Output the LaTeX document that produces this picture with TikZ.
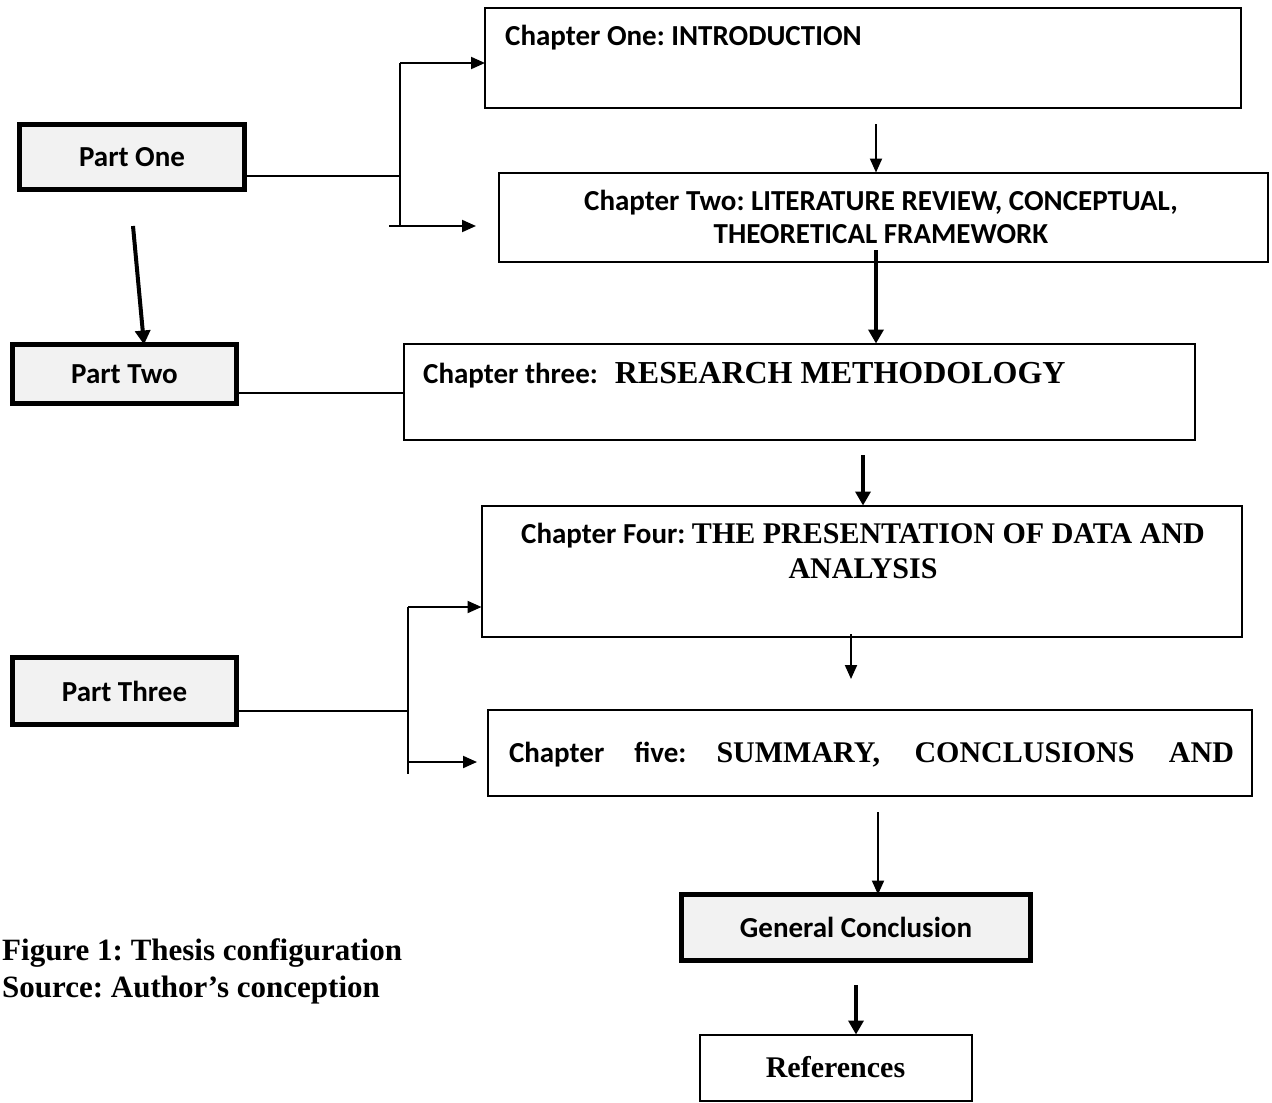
\documentclass[tikz,border=0pt]{standalone}
\usepackage{fontspec}
\newfontfamily\calib{Carlito}
\newfontfamily\tnr{Liberation Serif}
\usetikzlibrary{arrows.meta}
\definecolor{partgray}{HTML}{F2F2F2}
\frenchspacing
\begin{document}
\begin{tikzpicture}[x=1pt,y=-1pt,
  partbox/.style={draw, line width=4.5pt, fill=partgray, inner sep=0pt, outer sep=0pt,
    font=\calib\bfseries\fontsize{29}{33}\selectfont},
  chapbox/.style={draw, line width=2pt, inner sep=0pt, outer sep=0pt},
  cbf/.style={inner sep=0pt, font=\frenchspacing\calib\bfseries\fontsize{29}{33}\selectfont},
  tbf/.style={inner sep=0pt, font=\frenchspacing\tnr\bfseries\fontsize{30}{34}\selectfont},
  link/.style={line width=2pt},
  thinarrow/.style={line width=2pt, -{Triangle[length=14pt,width=12pt]}},
  thickarrow/.style={line width=4pt, -{Triangle[length=14pt,width=15pt]}}]
\useasboundingbox[fill=white] (0,0) rectangle (1272,1103);

% part boxes
\node[partbox, minimum width=225pt, minimum height=65pt] (p1) at (132,157) {Part One};
\node[partbox, minimum width=224pt, minimum height=59pt] (p2) at (124.5,374) {Part Two};
\node[partbox, minimum width=224pt, minimum height=67pt] (p3) at (124.5,691) {Part Three};

% chapter boxes
\node[chapbox, minimum width=756pt, minimum height=100pt] (c1) at (863,58) {};
\node[cbf, anchor=base west] (c1t) at (505,45) {Chapter One: INTRODUCTION};

\node[chapbox, minimum width=769pt, minimum height=89pt] (c2) at (883,217) {};
\node[cbf, align=center] (c2t) at (881,216.5) {Chapter Two: LITERATURE REVIEW, CONCEPTUAL,\\THEORETICAL FRAMEWORK};

\node[chapbox, minimum width=791pt, minimum height=96pt] (c3) at (799,391.5) {};
\node[cbf, anchor=base west] (c3t) at (423,383) {Chapter three:\hspace{17pt}{\tnr\fontsize{32}{36}\selectfont RESEARCH METHODOLOGY}};

\node[chapbox, minimum width=760pt, minimum height=131pt] (c4) at (861.5,571) {};
\node[cbf, align=center] (c4t) at (863,551) {Chapter Four: {\tnr\fontsize{30}{36}\selectfont THE PRESENTATION OF DATA AND}\\[2pt]{\tnr\fontsize{30}{36}\selectfont ANALYSIS}};

\node[chapbox, minimum width=764pt, minimum height=86pt] (c5) at (869.5,752.5) {};
\node[cbf] (c5t) at (871.5,755) {\makebox[725pt][s]{Chapter five: {\tnr\fontsize{30}{34}\selectfont SUMMARY, CONCLUSIONS AND}}};

\node[partbox, minimum width=349pt, minimum height=66pt] (gc) at (856,927.5) {General Conclusion};
\node[chapbox, tbf, minimum width=272pt, minimum height=66pt] (rf) at (835.5,1067.5) {References};

% caption
\node[tbf, anchor=base west, font=\frenchspacing\tnr\bfseries\fontsize{31}{34}\selectfont] (cap1) at (2,960) {Figure 1: Thesis configuration};
\node[tbf, anchor=base west, font=\frenchspacing\tnr\bfseries\fontsize{31}{34}\selectfont] (cap2) at (2,997) {Source: Author’s conception};

% part one branch
\coordinate (b1) at (400,176);
\coordinate (b1top) at (400,63);
\coordinate (b1bot) at (400,226);
\coordinate (b1left) at (389,226);
\coordinate (b1end) at (476,226);
\draw[link] (p1.east |- b1) -- (b1);
\draw[link] (b1top) -- (b1bot);
\draw[thinarrow] (b1top) -- (c1.west |- b1top);
\draw[thinarrow] (b1left) -- (b1end);

% part one -> part two
\coordinate (a1) at (133,226);
\draw[thickarrow] (a1) -- ([xshift=19.5pt]p2.north);

% part two -> chapter three
\draw[link] (p2.east |- 0,393) -- (c3.west |- 0,393);

% part three branch
\coordinate (b3) at (408,711);
\coordinate (b3top) at (408,607);
\coordinate (b3bot) at (408,774);
\coordinate (b3a) at (408,762);
\coordinate (b3end) at (477,762);
\draw[link] (p3.east |- b3) -- (b3);
\draw[link] (b3top) -- (b3bot);
\draw[thinarrow] (b3top) -- (c4.west |- b3top);
\draw[thinarrow] (b3a) -- (b3end);

% chapter chain
\coordinate (s12) at (876,124);
\draw[thinarrow] (s12) -- (c2.north -| s12);
\coordinate (s23) at (876,250);
\draw[thickarrow] (s23) -- (c3.north -| s23);
\coordinate (s34) at (863,455);
\draw[thickarrow] (s34) -- (c4.north -| s34);
\coordinate (s45) at (851,634);
\coordinate (e45) at (851,679);
\draw[thinarrow] (s45) -- (e45);
\coordinate (s5g) at (878,812);
\draw[thinarrow] (s5g) -- (gc.north -| s5g);
\coordinate (sgr) at (856,985);
\draw[thickarrow] (sgr) -- (rf.north -| sgr);
\end{tikzpicture}
\end{document}
